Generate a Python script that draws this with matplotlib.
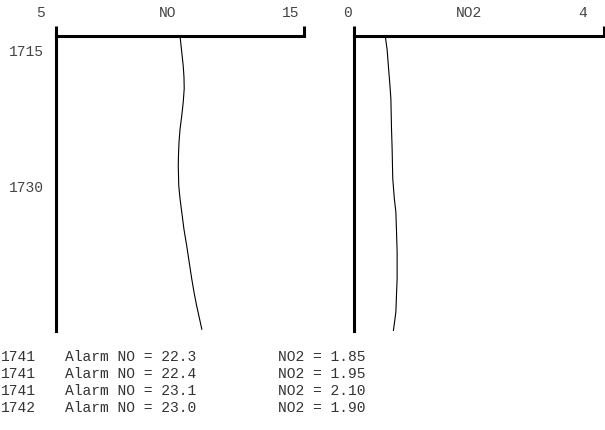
import matplotlib
matplotlib.use('Agg')
import matplotlib.pyplot as plt

plt.rcParams['font.family'] = ['Liberation Mono', 'DejaVu Sans']

# time axis (HHMM as plain numbers)
y_ticks = [1715, 1730]
y_range = (1746.0, 1713.5)

# NO trace
no_time = [1713.5, 1715.0, 1716.8, 1718.0, 1719.3, 1720.8, 1722.3, 1723.8, 1725.2,
           1726.5, 1727.8, 1730.0, 1731.4, 1732.9, 1734.8, 1736.6, 1738.4,
           1740.2, 1741.8, 1743.2, 1745.8]
no_vals = [10.0, 10.06, 10.13, 10.16, 10.17, 10.13, 10.07, 10.0, 9.96,
           9.94, 9.93, 9.95, 10.0, 10.07, 10.16, 10.27, 10.37,
           10.47, 10.57, 10.67, 10.88]
no_range = (5, 15)

# NO2 trace
no2_time = [1713.5, 1715.0, 1716.8, 1718.5, 1720.4, 1723.7, 1725.9, 1729.2, 1731.4,
            1732.9, 1735.0, 1737.3, 1740.2, 1742.0, 1743.9, 1746.0]
no2_vals = [0.50, 0.53, 0.55, 0.57, 0.59, 0.60, 0.61, 0.62, 0.645,
            0.67, 0.68, 0.69, 0.69, 0.68, 0.67, 0.63]
no2_range = (0, 4)

# alarm list under the chart
alarm_time = ['1741', '1741', '1741', '1742']
alarm_no = [22.3, 22.4, 23.1, 23.0]
alarm_no2 = [1.85, 1.95, 2.10, 1.90]

fig = plt.figure(figsize=(6.05, 4.31), dpi=100)
W, H = 605.0, 431.0

ax1 = fig.add_axes([56 / W, 1 - 332 / H, (304 - 56) / W, (332 - 37) / H])
ax2 = fig.add_axes([354 / W, 1 - 332 / H, (604 - 354) / W, (332 - 37) / H])

lab_col = '#444444'
txt_col = '#333333'

def strip(ax, t, v, xr, name, offs, name_off):
    ax.plot(v, t, color='black', lw=0.8)
    ax.set_xlim(*xr)
    ax.set_ylim(*y_range)
    for s in ['right', 'bottom']:
        ax.spines[s].set_visible(False)
    for s in ['top', 'left']:
        ax.spines[s].set_linewidth(2.2)
        ax.spines[s].set_capstyle('projecting')
    ax.xaxis.tick_top()
    ax.set_xticks(list(xr))
    ax.tick_params(axis='x', direction='out', length=7.2, width=2.2,
                   labeltop=False, labelbottom=False)
    ax.tick_params(axis='y', length=0)
    # range labels above the ends
    for val, dx in zip(xr, offs):
        ax.annotate(str(val), xy=(val, 1), xycoords=('data', 'axes fraction'),
                    xytext=(dx, 24), textcoords='offset pixels',
                    ha='center', va='center', fontsize=10.5, color=lab_col)
    ax.annotate(name, xy=(0.5, 1), xycoords='axes fraction',
                xytext=(name_off, 24), textcoords='offset pixels',
                ha='center', va='center', fontsize=10.5, color=lab_col)

strip(ax1, no_time, no_vals, no_range, 'NO', (-16, -13), -12)
strip(ax2, no2_time, no2_vals, no2_range, 'NO2', (-7, -21), -10)

ax1.set_yticks(y_ticks)
ax1.set_yticklabels([str(t) for t in y_ticks], fontsize=10.5, color=lab_col)
ax1.tick_params(axis='y', pad=9)
ax2.set_yticks([])

for i, (t, a, b) in enumerate(zip(alarm_time, alarm_no, alarm_no2)):
    yy = 1 - (357 + 17 * i) / H
    fig.text(1 / W, yy, t, ha='left', va='center', fontsize=10.5, color=txt_col)
    fig.text(65 / W, yy, 'Alarm NO = %.1f' % a, ha='left', va='center',
             fontsize=10.5, color=txt_col)
    fig.text(278 / W, yy, 'NO2 = %.2f' % b, ha='left', va='center',
             fontsize=10.5, color=txt_col)

fig.savefig('out.png', dpi=100)
